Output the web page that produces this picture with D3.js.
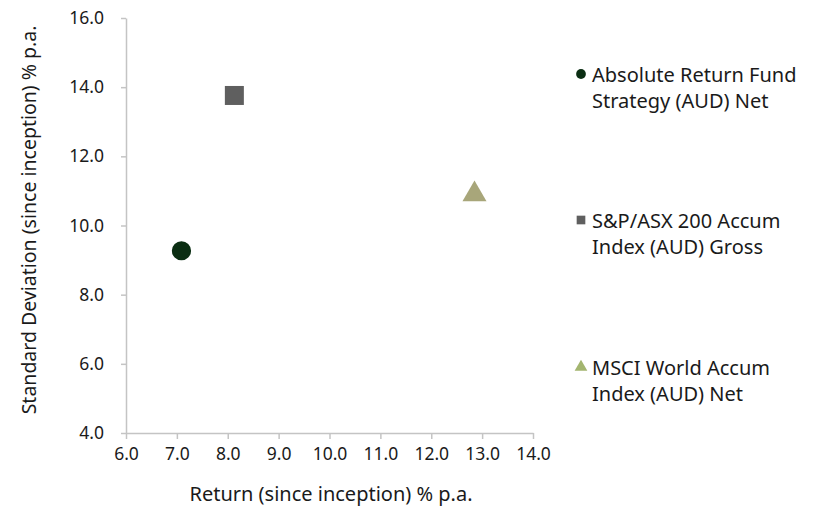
<!DOCTYPE html>
<html>
<head>
<meta charset="utf-8">
<script src="https://cdn.jsdelivr.net/npm/d3@7"></script>
<style>
  body { margin: 0; background: #fff; }
  svg text { font-family: "Noto Sans", sans-serif; fill: #1a1a1a; }
</style>
</head>
<body>
<script>
var width = 817,
  height = 508;

// data
const names = [
  ["Absolute Return Fund", "Strategy (AUD) Net"],
  ["S&P/ASX 200 Accum", "Index (AUD) Gross"],
  ["MSCI World Accum", "Index (AUD) Net"],
];
const returns = [7.09, 8.13, 12.85];
const stdDevs = [9.27, 13.76, 10.9];
const xTicks = [6, 7, 8, 9, 10, 11, 12, 13, 14];
const yTicks = [4, 6, 8, 10, 12, 14, 16];
const shapes = [d3.symbolCircle, d3.symbolSquare, d3.symbolTriangle];
const colors = ["#0b2e13", "#5f5f5f", "#a8a67a"];
const legendColors = ["#0b2e13", "#5f5f5f", "#a3b56f"];

const svg = d3
  .select("body")
  .append("svg")
  .attr("width", width)
  .attr("height", height);

const x = d3.scaleLinear().domain([6, 14]).range([126, 533]);
const y = d3.scaleLinear().domain([4, 16]).range([433, 18]);

const xAxis = svg
  .append("g")
  .attr("transform", "translate(0,433)")
  .call(d3.axisBottom(x).tickValues(xTicks).tickSize(6).tickSizeOuter(0).tickFormat(d3.format(".1f")));

const yAxis = svg
  .append("g")
  .attr("transform", "translate(126,0)")
  .call(d3.axisLeft(y).tickValues(yTicks).tickSize(5).tickSizeOuter(0).tickFormat(d3.format(".1f")));

[xAxis, yAxis].forEach((a) => {
  a.selectAll("path, line").attr("stroke", "#c4c4c4").attr("stroke-width", 1.5);
  a.selectAll("text").style("font-size", "17.5px").attr("fill", "#1a1a1a");
});
xAxis.selectAll("text").attr("dy", "1.02em");
yAxis.selectAll("text").attr("x", -22);

svg
  .append("text")
  .attr("x", 331)
  .attr("y", 501)
  .attr("text-anchor", "middle")
  .style("font-size", "20px")
  .text("Return (since inception) % p.a.");

svg
  .append("text")
  .attr("transform", "translate(36,220) rotate(-90)")
  .attr("text-anchor", "middle")
  .style("font-size", "19.5px")
  .text("Standard Deviation (since inception) % p.a.");

const sizes = [290, 361, 250];

svg
  .append("g")
  .selectAll("path")
  .data(returns)
  .enter()
  .append("path")
  .attr("transform", (d, i) => "translate(" + x(d) + "," + y(stdDevs[i]) + ")")
  .attr("d", (d, i) => d3.symbol().type(shapes[i]).size(sizes[i])())
  .attr("fill", (d, i) => colors[i]);

// legend
const legendY = [74, 220, 367];
const legend = svg
  .append("g")
  .selectAll("g")
  .data(names)
  .enter()
  .append("g")
  .attr("transform", (d, i) => "translate(581," + legendY[i] + ")");

legend
  .append("path")
  .attr("d", (d, i) => d3.symbol().type(shapes[i]).size(i == 2 ? 70 : 75)())
  .attr("fill", (d, i) => legendColors[i]);

legend
  .append("text")
  .attr("x", 11)
  .attr("y", 8)
  .style("font-size", "20px")
  .text((d) => d[0]);

legend
  .append("text")
  .attr("x", 11)
  .attr("y", 34)
  .style("font-size", "20px")
  .text((d) => d[1]);
</script>
</body>
</html>
